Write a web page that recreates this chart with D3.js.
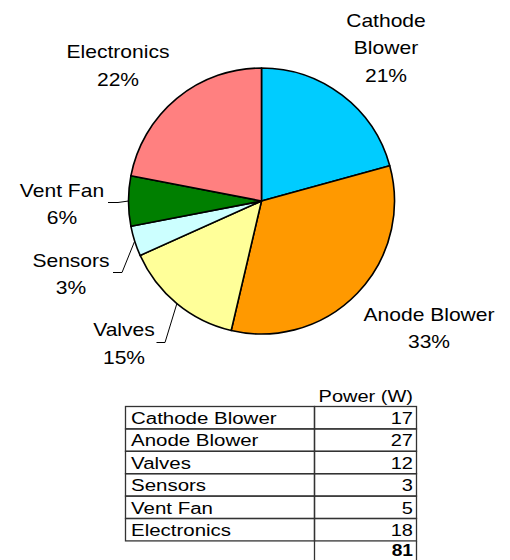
<!DOCTYPE html>
<html><head><meta charset="utf-8">
<script src="https://cdn.jsdelivr.net/npm/d3@7"></script>
<style>html,body{margin:0;padding:0;background:#fff;}svg{display:block;}</style>
</head><body>
<svg id="c" width="510" height="560"></svg>
<script>
const categories = ["Cathode Blower","Anode Blower","Valves","Sensors","Vent Fan","Electronics"];
const powerW = [17,27,12,3,5,18];
const pctLabels = ["21%","33%","15%","3%","6%","22%"];
const totalLabel = "81";
const headerLabel = "Power (W)";
const colors = ["#00CCFF","#FF9900","#FFFF99","#CCFFFF","#007F00","#FF8080"];

// label layout (positions only)
const labelLayout = [
  {lines:["Cathode","Blower"], x:386, y:26.5, leader:null},
  {lines:["Anode Blower"], x:429, y:320.5, leader:null},
  {lines:["Valves"], x:124, y:336, leader:{elbow:[165,342.5], end:[156.5,342.5]}},
  {lines:["Sensors"], x:71, y:266.5, leader:{elbow:[122,272.5], end:[113,272.5]}},
  {lines:["Vent Fan"], x:62, y:196.5, leader:{elbow:[118,202.5], end:[108,202.5]}},
  {lines:["Electronics"], x:118, y:58, leader:null}
];

const svg = d3.select("#c");
const cx = 261.5, cy = 201, R = 133;
const FONT = "'Liberation Sans', Arial, sans-serif";

const pie = d3.pie().sort(null).value(d=>d)(powerW);
const arc = d3.arc().innerRadius(0).outerRadius(R);
const g = svg.append("g").attr("transform",`translate(${cx},${cy})`);
g.selectAll("path").data(pie).join("path")
  .attr("d",arc).attr("fill",(d,i)=>colors[i])
  .attr("stroke","#000").attr("stroke-width",1.6).attr("stroke-linejoin","round");

function stext(parent, str, x, y, size, sx, anchor, weight){
  parent.append("text").attr("transform",`translate(${x},${y}) scale(${sx},1)`)
    .attr("text-anchor",anchor).attr("font-family",FONT).attr("font-size",size)
    .attr("font-weight",weight||"normal").attr("fill","#000").text(str);
}

// labels
const lh = 27.5;
labelLayout.forEach((L,i)=>{
  const lines = L.lines.concat([pctLabels[i]]);
  lines.forEach((t,k)=> stext(svg, t, L.x, L.y + k*lh, 18, 1.17, "middle"));
  if(L.leader){
    const a = (pie[i].startAngle+pie[i].endAngle)/2;
    const px = cx + R*Math.sin(a), py = cy - R*Math.cos(a);
    svg.append("path")
      .attr("d",`M${px},${py}L${L.leader.elbow[0]},${L.leader.elbow[1]}L${L.leader.end[0]},${L.leader.end[1]}`)
      .attr("fill","none").attr("stroke","#000").attr("stroke-width",1);
  }
});

// table
const tx0 = 125.5, tx1 = 314.5, tx2 = 416.5, ty0 = 406.5, rh = 22.4;
const y = d3.scaleBand().domain(categories).range([ty0, ty0 + rh*categories.length]).padding(0);
const tg = svg.append("g");
stext(tg, headerLabel, 413, 402, 16, 1.25, "end");
categories.forEach((c,i)=>{
  const yy = y(c);
  tg.append("rect").attr("x",tx0).attr("y",yy).attr("width",tx1-tx0).attr("height",y.bandwidth())
    .attr("fill","none").attr("stroke","#333").attr("stroke-width",1.3);
  tg.append("rect").attr("x",tx1).attr("y",yy).attr("width",tx2-tx1).attr("height",y.bandwidth())
    .attr("fill","none").attr("stroke","#333").attr("stroke-width",1.3);
  stext(tg, c, 131, yy+y.bandwidth()-5, 16, 1.28, "start");
  stext(tg, String(powerW[i]), 413, yy+y.bandwidth()-5, 16, 1.25, "end");
});
const yb = ty0 + rh*categories.length;
tg.append("path").attr("d",`M${tx1},${yb}V562M${tx2},${yb}V562`)
  .attr("stroke","#333").attr("stroke-width",1.3).attr("fill","none");
stext(tg, totalLabel, 413, 555.5, 16, 1.2, "end", "bold");
</script>
</body></html>
